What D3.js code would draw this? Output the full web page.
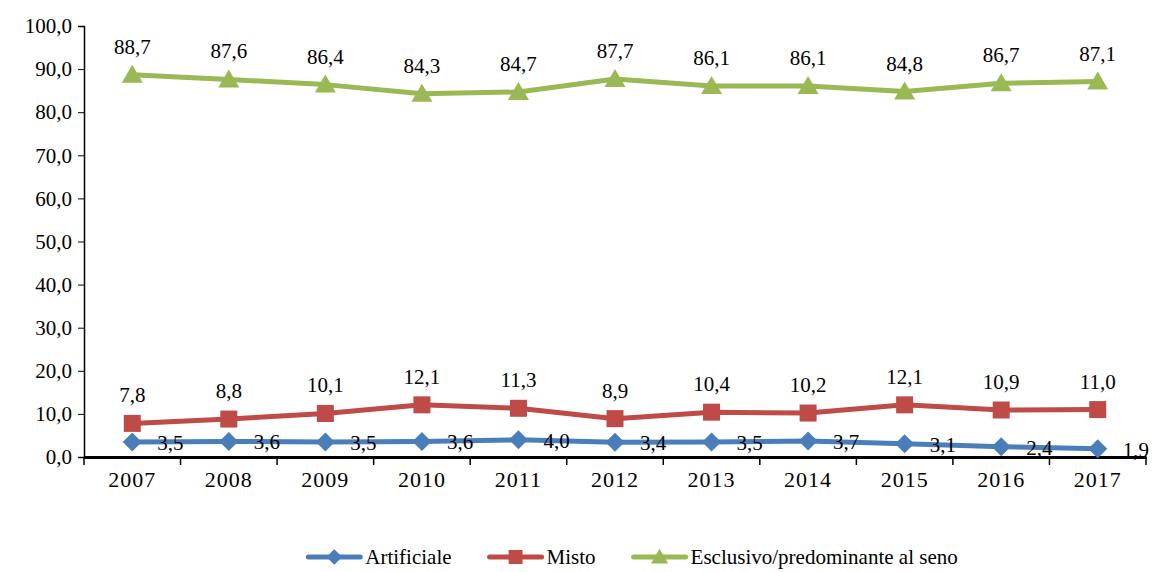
<!DOCTYPE html>
<html>
<head>
<meta charset="utf-8">
<script src="https://cdn.jsdelivr.net/npm/d3@7"></script>
</head>
<body style="margin:0">
<svg id="chart" width="1155" height="572"></svg>
<script>
// Data
const years = ["2007","2008","2009","2010","2011","2012","2013","2014","2015","2016","2017"];
const artificiale = [3.5, 3.6, 3.5, 3.6, 4.0, 3.4, 3.5, 3.7, 3.1, 2.4, 1.9];
const misto = [7.8, 8.8, 10.1, 12.1, 11.3, 8.9, 10.4, 10.2, 12.1, 10.9, 11.0];
const esclusivo = [88.7, 87.6, 86.4, 84.3, 84.7, 87.7, 86.1, 86.1, 84.8, 86.7, 87.1];
const yTicks = [0, 10, 20, 30, 40, 50, 60, 70, 80, 90, 100];
const seriesNames = ["Artificiale", "Misto", "Esclusivo/predominante al seno"];

const FONT = '"Times New Roman", "Liberation Serif", Tinos, serif';
const fmt = v => v.toFixed(1).replace(".", ",");

// Apply the serif face to a text selection
function serif(sel, size) {
  return sel.style("font-family", FONT, "important")
    .style("font-size", size + "px", "important")
    .attr("font-family", '"Times New Roman"')
    .attr("font-size", size)
    .attr("fill", "#000");
}

const series = [
  { name: seriesNames[0], values: artificiale, color: "#4A7EBB", shape: "diamond", label: "right" },
  { name: seriesNames[1], values: misto, color: "#BE4B48", shape: "square", label: "above" },
  { name: seriesNames[2], values: esclusivo, color: "#98B954", shape: "triangle", label: "above" }
];

const svg = d3.select("#chart");
const x = d3.scaleBand().domain(years).range([84, 1146]);
const y = d3.scaleLinear().domain([0, 100]).range([457, 26]);

// Y axis
const yAxis = svg.append("g").attr("transform", "translate(84,0)")
  .call(d3.axisLeft(y).tickValues(yTicks).tickFormat(fmt).tickSize(6).tickPadding(6));
yAxis.attr("font-family", null).attr("font-size", null);
yAxis.select(".domain").attr("stroke", "#000").attr("stroke-width", 1.5);
yAxis.selectAll(".tick line").attr("stroke", "#000").attr("stroke-width", 1);
serif(yAxis.selectAll(".tick text"), 21);

// X axis
const xAxis = svg.append("g").attr("transform", "translate(0,457)")
  .call(d3.axisBottom(x).tickSize(0).tickPadding(20));
xAxis.attr("font-family", null).attr("font-size", null);
xAxis.select(".domain").attr("stroke", "#000").attr("stroke-width", 3);
serif(xAxis.selectAll(".tick text"), 22).attr("dy", "0.45em").attr("letter-spacing", 1);
// Boundary tick marks between categories
const edges = years.map(d => x(d)).concat([x.range()[1]]);
xAxis.selectAll(".edge").data(edges).enter().append("line")
  .attr("x1", d => d).attr("x2", d => d).attr("y1", 0).attr("y2", 8)
  .attr("stroke", "#000").attr("stroke-width", 1.5);

const cx = d => x(d) + x.bandwidth() / 2;

function marker(g, shape, color, k) {
  if (shape === "diamond") {
    g.append("path").attr("d", `M0,${-9.5*k} L${9.5*k},0 L0,${9.5*k} L${-9.5*k},0 Z`).attr("fill", color);
  } else if (shape === "square") {
    const h = 8.5 * k;
    g.append("rect").attr("x", -h).attr("y", -h).attr("width", 2*h).attr("height", 2*h).attr("fill", color);
  } else {
    g.append("path").attr("d", `M0,${-10*k} L${10.5*k},${8*k} L${-10.5*k},${8*k} Z`).attr("fill", color);
  }
}

series.forEach(s => {
  const pts = years.map((yr, i) => [cx(yr), y(s.values[i])]);
  svg.append("path").attr("d", d3.line()(pts))
    .attr("fill", "none").attr("stroke", s.color).attr("stroke-width", 5).attr("stroke-linejoin", "round");
  pts.forEach((p, i) => {
    const g = svg.append("g").attr("transform", `translate(${p[0]},${p[1]})`);
    marker(g, s.shape, s.color, 1);
    const t = serif(svg.append("text").text(fmt(s.values[i])), 21);
    if (s.label === "right") {
      t.attr("x", p[0] + 25).attr("y", p[1] + 8).attr("text-anchor", "start");
    } else {
      t.attr("x", p[0]).attr("y", p[1] - 21).attr("text-anchor", "middle");
    }
  });
});

// Legend: items laid out from measured text widths, centred under the plot
const ly = 557, lineLen = 52, textGap = 5, itemGap = 38;
const legend = svg.append("g");
const items = series.map(s => {
  const g = legend.append("g");
  g.append("line").attr("x1", 0).attr("x2", lineLen).attr("y1", ly).attr("y2", ly)
    .attr("stroke", s.color).attr("stroke-width", 5).attr("stroke-linecap", "round");
  const m = g.append("g").attr("transform", `translate(${lineLen / 2},${ly})`);
  marker(m, s.shape, s.color, 0.82);
  const t = serif(g.append("text").attr("x", lineLen + textGap).attr("y", ly + 7).text(s.name), 21);
  return { g, w: lineLen + textGap + t.node().getComputedTextLength() };
});
const total = d3.sum(items, d => d.w) + itemGap * (items.length - 1);
let lx = 633 - total / 2;
items.forEach(it => {
  it.g.attr("transform", `translate(${lx},0)`);
  lx += it.w + itemGap;
});
</script>
</body>
</html>
